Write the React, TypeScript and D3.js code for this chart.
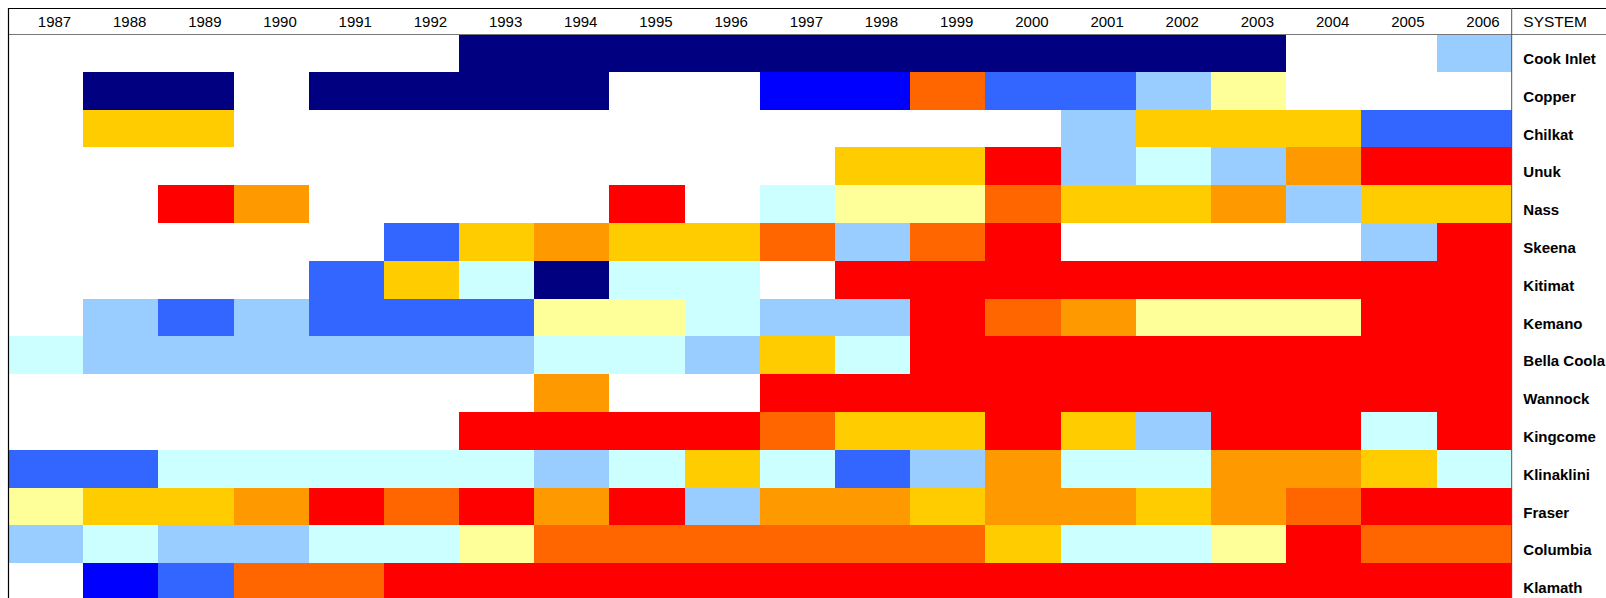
import React from "react";
import * as d3 from "d3";

const years = ["1987","1988","1989","1990","1991","1992","1993","1994","1995","1996","1997","1998","1999","2000","2001","2002","2003","2004","2005","2006"];
const systems = ["Cook Inlet","Copper","Chilkat","Unuk","Nass","Skeena","Kitimat","Kemano","Bella Coola","Wannock","Kingcome","Klinaklini","Fraser","Columbia","Klamath"];

// category codes: 0 = no data, 1..10 = ranked classes (cold -> hot)
const cookInlet  = [0,0,0,0,0,0,1,1,1,1,1,1,1,1,1,1,1,0,0,4];
const copper     = [0,1,1,0,1,1,1,1,0,0,2,2,9,3,3,4,6,0,0,0];
const chilkat    = [0,7,7,0,0,0,0,0,0,0,0,0,0,0,4,7,7,7,3,3];
const unuk       = [0,0,0,0,0,0,0,0,0,0,0,7,7,10,4,5,4,8,10,10];
const nass       = [0,0,10,8,0,0,0,0,10,0,5,6,6,9,7,7,8,4,7,7];
const skeena     = [0,0,0,0,0,3,7,8,7,7,9,4,9,10,0,0,0,0,4,10];
const kitimat    = [0,0,0,0,3,7,5,1,5,5,0,10,10,10,10,10,10,10,10,10];
const kemano     = [0,4,3,4,3,3,3,6,6,5,4,4,10,9,8,6,6,6,10,10];
const bellaCoola = [5,4,4,4,4,4,4,5,5,4,7,5,10,10,10,10,10,10,10,10];
const wannock    = [0,0,0,0,0,0,0,8,0,0,10,10,10,10,10,10,10,10,10,10];
const kingcome   = [0,0,0,0,0,0,10,10,10,10,9,7,7,10,7,4,10,10,5,10];
const klinaklini = [3,3,5,5,5,5,5,4,5,7,5,3,4,8,5,5,8,8,7,5];
const fraser     = [6,7,7,8,10,9,10,8,10,4,8,8,7,8,8,7,8,9,10,10];
const columbia   = [4,5,4,4,5,5,6,9,9,9,9,9,9,7,5,5,6,10,9,9];
const klamath    = [0,2,3,9,9,10,10,10,10,10,10,10,10,10,10,10,10,10,10,10];

const rows = [cookInlet, copper, chilkat, unuk, nass, skeena, kitimat, kemano, bellaCoola, wannock, kingcome, klinaklini, fraser, columbia, klamath];

const classCodes = [0,1,2,3,4,5,6,7,8,9,10];
const classColors = ["#FFFFFF","#000080","#0000FF","#3366FF","#99CCFF","#CCFFFF","#FFFF99","#FFCC00","#FF9900","#FF6600","#FF0000"];

export default function App() {
  const W = 1606, H = 598;
  const left = 8, gridRight = 1511.7, top = 8, headerY = 34, rowH = 37.8;
  const x = d3.scaleBand<string>().domain(years).range([left, gridRight]).padding(0);
  const y = d3.scaleBand<string>().domain(systems).range([headerY, headerY + rowH * systems.length]).padding(0);
  const color = d3.scaleOrdinal<number, string>().domain(classCodes).range(classColors);
  const font = "'Liberation Sans', Arial, sans-serif";

  const cells: JSX.Element[] = [];
  rows.forEach((vals, ri) => {
    vals.forEach((v, ci) => {
      if (v === 0) return;
      const x0 = Math.round(x(years[ci]) as number);
      const x1 = Math.round((x(years[ci]) as number) + x.bandwidth());
      const y0 = Math.round(y(systems[ri]) as number);
      const y1 = Math.round((y(systems[ri]) as number) + y.bandwidth());
      cells.push(
        <rect key={`${ri}-${ci}`} x={x0} y={y0} width={x1 - x0} height={y1 - y0}
          fill={color(v)} shapeRendering="crispEdges" />
      );
    });
  });

  return (
    <svg width={W} height={H} style={{ position: "absolute", left: 0, top: 0, background: "#fff" }}>
      <rect x={0} y={0} width={W} height={H} fill="#fff" />
      {cells}
      {years.map((yr) => (
        <text key={yr} x={(x(yr) as number) + x.bandwidth() - 12} y={26.7} textAnchor="end"
          fontFamily={font} fontSize={15} fill="#000">{yr}</text>
      ))}
      <text x={1523.3} y={26.7} fontFamily={font} fontSize={15.5} fill="#000">SYSTEM</text>
      {systems.map((s) => (
        <text key={s} x={1523.3} y={(y(s) as number) + y.bandwidth() / 2 + 11} fontFamily={font}
          fontSize={15} fontWeight="bold" fill="#000">{s}</text>
      ))}
      <line x1={left} x2={W} y1={top + 0.5} y2={top + 0.5} stroke="#000" strokeWidth={1} />
      <line x1={left} x2={W} y1={headerY + 0.5} y2={headerY + 0.5} stroke="#777" strokeWidth={1} />
      <line x1={gridRight} x2={gridRight} y1={top} y2={H} stroke="#555" strokeWidth={1} />
      <line x1={left + 0.5} x2={left + 0.5} y1={top} y2={H} stroke="#000" strokeWidth={1.2} />
    </svg>
  );
}
